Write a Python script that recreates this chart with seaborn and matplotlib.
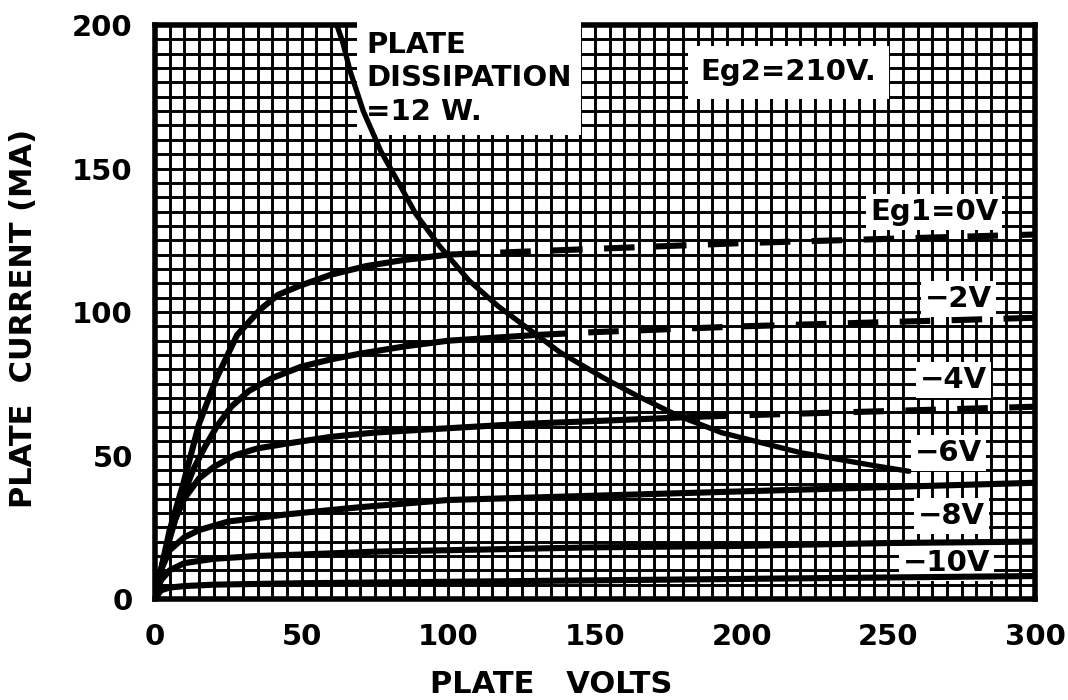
import matplotlib
matplotlib.use("Agg")
import matplotlib.pyplot as plt
import seaborn as sns
import pandas as pd

# ---- data ----
# Eg1 = 0 V
v_0_solid = [0, 2, 5, 9.6, 15, 21, 28, 36, 42, 49, 60, 72, 84, 100]
i_0_solid = [0, 10, 24, 40, 61, 77, 92, 101, 106, 109, 113, 116, 118, 120]
v_0_dash = [100, 150, 200, 250, 300]
i_0_dash = [120, 122, 124, 125.5, 127]

# Eg1 = -2 V
v_2_solid = [0, 2, 5, 9.6, 13, 17, 21, 26, 32, 40, 50, 60, 70, 85, 100, 115, 130]
i_2_solid = [0, 10, 22, 36, 45, 53, 60, 67, 72.5, 77, 81, 83.5, 85.5, 88, 90, 91, 92]
v_2_dash = [130, 150, 200, 250, 300]
i_2_dash = [92, 93, 95, 96.5, 98]

# Eg1 = -4 V
v_4_solid = [0, 3, 7, 10, 15, 20, 27, 35, 44, 60, 75, 100, 125, 150, 185]
i_4_solid = [0, 14, 28, 35, 42, 46, 50, 52.5, 54, 56.5, 58, 59.5, 61, 62, 63.5]
v_4_dash = [185, 200, 250, 300]
i_4_dash = [63.5, 64, 65.5, 67]

# Eg1 = -6 V
v_6 = [0, 2, 5, 10, 15, 25, 45, 70, 100, 150, 200, 250, 300]
i_6 = [0, 10, 17, 21.5, 24, 27, 29.5, 32, 34.5, 36, 37.5, 39, 40.5]

# Eg1 = -8 V
v_8 = [0, 2, 5, 10, 20, 35, 50, 75, 100, 150, 200, 250, 300]
i_8 = [0, 6.5, 10, 12.5, 14, 15, 15.5, 16.5, 17, 18, 18.5, 19.5, 20]

# Eg1 = -10 V
v_10 = [0, 2, 5, 10, 20, 50, 100, 150, 200, 250, 300]
i_10 = [0, 3, 4, 4.5, 5, 5.5, 6, 6.5, 7, 7.5, 8]

# plate dissipation = 12 W
v_diss = [62, 64, 66.5, 71, 77, 82.5, 89, 97, 107, 117, 138, 153, 164, 178, 193, 220, 245, 257]
i_diss = [200, 194, 184, 170, 156, 146, 134, 123, 111, 102, 86, 77, 71, 64, 58, 51, 46.5, 44.5]

x_ticks = [0, 50, 100, 150, 200, 250, 300]
y_ticks = [0, 50, 100, 150, 200]

curve_labels = ["Eg1=0V", "\u22122V", "\u22124V", "\u22126V", "\u22128V", "\u221210V"]

# ---- styling ----
sns.set_theme(style="white")
plt.rcParams["font.family"] = ["DejaVu Sans"]
plt.rcParams["font.weight"] = "bold"
plt.rcParams["text.color"] = "black"
plt.rcParams["axes.labelcolor"] = "black"
plt.rcParams["xtick.color"] = "black"
plt.rcParams["ytick.color"] = "black"

fig = plt.figure(figsize=(10.68, 7.0), dpi=100)
ax = fig.add_axes([155 / 1068, 1 - 599 / 700, 880 / 1068, 574 / 700])

solid_sets = [(v_0_solid, i_0_solid), (v_2_solid, i_2_solid), (v_4_solid, i_4_solid),
              (v_6, i_6), (v_8, i_8), (v_10, i_10)]
dash_sets = [(v_0_dash, i_0_dash), (v_2_dash, i_2_dash), (v_4_dash, i_4_dash)]

LW = 4.4
for vv, ii in solid_sets:
    df = pd.DataFrame({"v": vv, "i": ii})
    sns.lineplot(data=df, x="v", y="i", ax=ax, color="black", lw=LW,
                 sort=False, estimator=None, zorder=6)
for vv, ii in dash_sets:
    df = pd.DataFrame({"v": vv, "i": ii})
    sns.lineplot(data=df, x="v", y="i", ax=ax, color="black", lw=LW,
                 sort=False, estimator=None, zorder=6)
    ax.lines[-1].set_dashes([5, 3.5])
    ax.lines[-1].set_dash_capstyle("butt")

dfd = pd.DataFrame({"v": v_diss, "i": i_diss})
sns.lineplot(data=dfd, x="v", y="i", ax=ax, color="black", lw=3.8,
             sort=False, estimator=None, zorder=6)

ax.set_xlim(0, 300)
ax.set_ylim(0, 200)
ax.set_xticks(x_ticks)
ax.set_yticks(y_ticks)
ax.set_xticks(list(range(0, 301, 5)), minor=True)
ax.set_yticks(list(range(0, 201, 5)), minor=True)
ax.set_axisbelow(True)
ax.grid(which="both", color="black", lw=2.1)
ax.tick_params(which="both", length=0)
ax.tick_params(axis="x", pad=17, labelsize=21, colors="black")
ax.tick_params(axis="y", pad=16, labelsize=21, colors="black")
for lab in ax.get_xticklabels() + ax.get_yticklabels():
    lab.set_fontweight("bold")
for sp in ax.spines.values():
    sp.set_visible(True)
    sp.set_color("black")
    sp.set_linewidth(4)

ax.set_xlabel("PLATE   VOLTS", fontsize=22, fontweight="bold", color="black")
ax.set_ylabel("PLATE  CURRENT (MA)", fontsize=22, fontweight="bold", color="black")
ax.xaxis.set_label_coords(0.45, -0.123)
ax.yaxis.set_label_coords(-0.133, 0.488)

box = dict(facecolor="white", edgecolor="none", pad=3)
fs = 21
ax.text(72, 198, "PLATE\nDISSIPATION\n=12 W.", fontsize=fs, fontweight="bold",
        ha="left", va="top", linespacing=1.25, zorder=4, color="black",
        bbox=dict(facecolor="white", edgecolor="none", pad=7))
ax.text(186, 183.6, "Eg2=210V.", fontsize=fs, fontweight="bold", color="black",
        ha="left", va="center", zorder=4,
        bbox=dict(facecolor="white", edgecolor="none", pad=9))

label_pos = [(243.8, 134.8), (262.5, 104.5), (260.8, 76.3), (259, 50.9), (260, 28.9), (255, 12.5)]
for (x, y), t in zip(label_pos, curve_labels):
    ax.text(x, y, t, fontsize=fs, fontweight="bold", ha="left", va="center",
            zorder=4, color="black", bbox=box)

fig.savefig("out.png", dpi=100, facecolor="white")
